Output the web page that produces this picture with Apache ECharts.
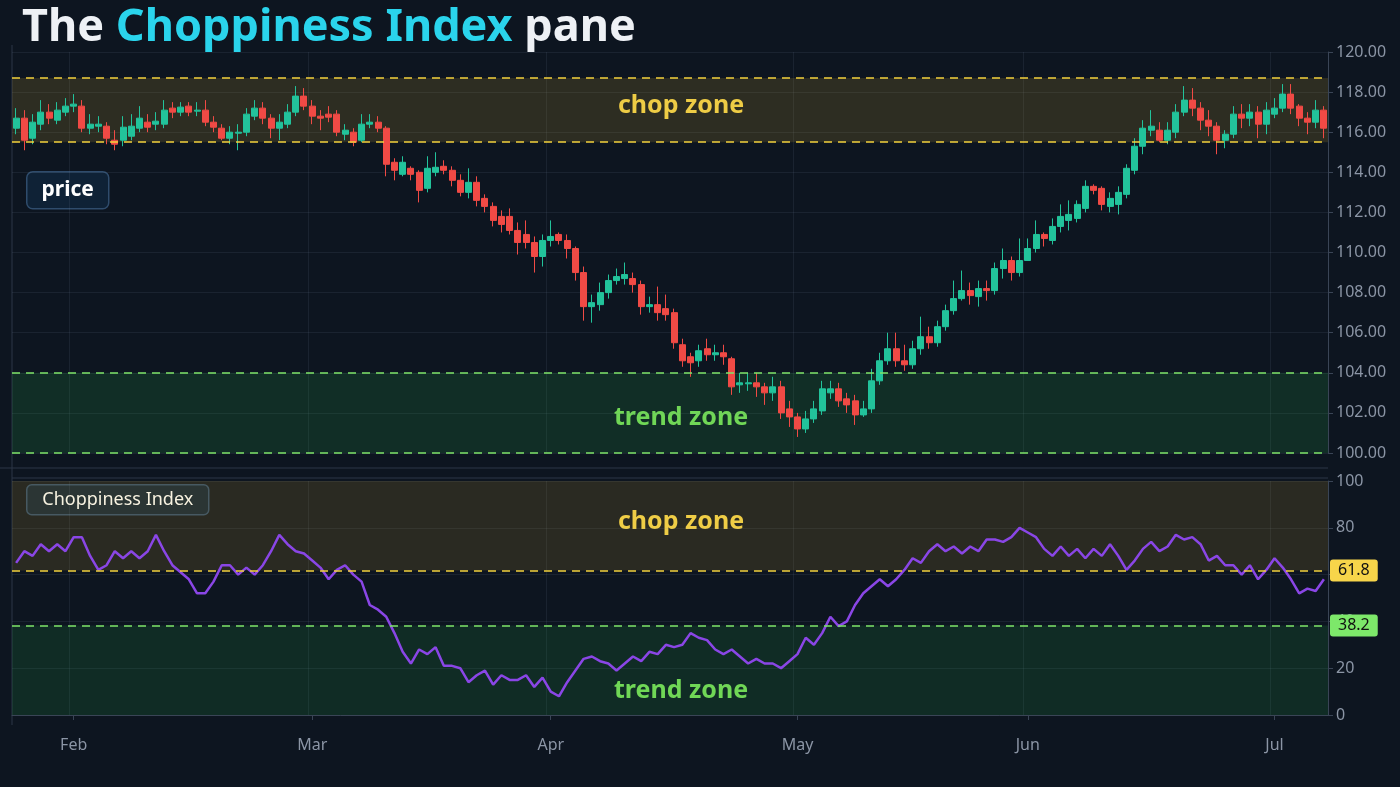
<!DOCTYPE html>
<html><head><meta charset="utf-8">
<script src="https://cdn.jsdelivr.net/npm/echarts@6/dist/echarts.min.js"></script>
<style>html,body{margin:0;padding:0;background:#0d1520;}#c{width:1400px;height:787px;}</style>
</head><body><div id="c"></div>
<script>
// [open, close, low, high]
const candles = [
[116.2,116.7,115.9,117.2],[116.7,115.6,115.1,117.1],[115.7,116.5,115.4,116.9],[116.4,117.0,116.1,117.6],[117.0,116.7,116.4,117.4],
[116.6,117.1,116.4,117.5],[117.0,117.3,116.8,117.7],[117.3,117.4,117.0,117.9],[117.3,116.2,116.0,117.6],[116.2,116.4,115.9,116.9],
[116.3,116.4,116.0,116.8],[116.3,115.7,115.4,116.5],[115.6,115.4,115.1,116.1],[115.6,116.25,115.3,116.8],[115.8,116.3,115.6,116.9],
[116.2,116.7,116.0,117.3],[116.5,116.25,116.0,116.9],[116.4,116.55,116.1,117.0],[116.4,117.1,116.2,117.6],[117.2,117.0,116.7,117.5],
[117.0,117.25,116.8,117.5],[117.3,117.0,116.8,117.5],[117.05,117.1,116.8,117.5],[117.1,116.5,116.3,117.6],[116.5,116.25,116.0,116.8],
[116.2,115.7,115.6,116.4],[115.7,116.0,115.4,116.3],[115.95,116.0,115.1,116.4],[116.0,116.9,115.8,117.2],[116.8,117.2,116.6,117.6],
[117.2,116.7,116.4,117.5],[116.7,116.2,115.7,116.9],[116.2,116.5,115.6,116.9],[116.4,117.0,116.2,117.4],[117.0,117.8,116.8,118.3],
[117.8,117.3,117.1,118.2],[117.3,116.8,116.4,117.6],[116.8,116.7,116.1,117.1],[116.9,116.75,116.5,117.3],[116.9,116.0,115.8,117.1],
[115.9,116.1,115.6,116.4],[116.0,115.5,115.3,116.2],[115.6,116.4,115.5,116.9],[116.4,116.5,116.2,116.9],[116.5,116.2,116.0,116.8],
[116.2,114.4,113.8,116.3],[114.5,114.1,113.6,114.7],[113.9,114.5,113.8,114.8],[114.2,113.9,113.6,114.3],[114.0,113.1,112.5,114.1],
[113.2,114.2,113.0,114.8],[114.0,114.25,113.8,115.0],[114.3,114.1,113.9,114.6],[114.1,113.6,113.3,114.3],[113.6,113.0,112.8,113.9],
[113.0,113.5,112.7,114.2],[113.5,112.6,112.3,113.8],[112.7,112.3,112.0,112.9],[112.3,111.6,111.3,112.5],[111.8,111.4,111.0,112.1],
[111.8,111.1,110.9,112.2],[111.1,110.5,109.9,111.5],[110.9,110.5,110.2,111.6],[110.5,109.8,109.0,110.8],[109.8,110.6,109.3,110.9],
[110.6,110.8,110.3,111.6],[110.9,110.6,110.4,111.0],[110.6,110.2,109.7,110.9],[110.2,109.0,108.6,110.3],[109.0,107.3,106.6,109.3],
[107.3,107.5,106.5,107.9],[107.4,108.0,107.1,108.5],[108.0,108.6,107.7,108.9],[108.6,108.8,108.4,109.2],[108.7,108.9,108.4,109.5],
[108.7,108.4,108.0,109.0],[108.4,107.3,106.9,108.6],[107.3,107.4,107.0,107.8],[107.4,107.0,106.6,108.3],[107.2,106.9,106.6,107.9],
[107.0,105.5,105.2,107.2],[105.4,104.6,104.3,105.7],[104.8,104.5,103.8,105.0],[104.6,105.1,104.3,105.4],[105.2,104.9,104.6,105.7],
[104.9,105.0,104.6,105.4],[105.0,104.8,104.4,105.4],[104.7,103.3,102.9,104.8],[103.4,103.5,103.0,104.0],[103.45,103.5,103.1,104.0],
[103.5,103.3,102.8,104.0],[103.3,103.0,102.4,103.5],[103.0,103.3,102.6,103.8],[103.3,102.0,101.7,103.6],[102.2,101.8,101.3,102.6],
[101.8,101.2,100.8,102.0],[101.2,101.7,101.0,102.1],[101.7,102.2,101.5,102.6],[102.1,103.2,101.9,103.6],[103.0,103.2,102.7,103.6],
[103.2,102.6,102.3,103.5],[102.7,102.4,102.0,103.0],[102.6,101.9,101.4,102.9],[101.9,102.2,101.8,102.6],[102.2,103.6,102.0,104.2],
[103.6,104.6,103.4,105.0],[104.6,105.2,104.4,106.0],[105.2,104.6,104.3,106.0],[104.6,104.4,104.1,105.4],[104.4,105.2,104.2,105.6],
[105.2,105.8,104.9,106.8],[105.8,105.5,105.2,106.3],[105.5,106.3,105.3,106.6],[106.3,107.1,106.1,107.4],[107.1,107.7,106.9,108.6],
[107.7,108.1,107.6,109.1],[108.1,107.85,107.4,108.5],[107.8,108.2,107.3,108.6],[108.2,108.1,107.6,108.6],[108.1,109.2,107.9,109.5],
[109.2,109.6,108.7,110.2],[109.6,109.0,108.6,109.8],[109.0,109.6,108.8,110.7],[109.6,110.2,109.6,110.7],[110.2,110.9,110.0,111.6],
[110.9,110.7,110.3,111.0],[110.6,111.3,110.4,111.7],[111.3,111.8,111.0,112.4],[111.6,111.9,111.1,112.6],[111.7,112.4,111.5,112.6],
[112.2,113.3,112.0,113.6],[113.3,113.1,112.9,113.4],[113.2,112.4,112.1,113.3],[112.3,112.7,112.0,113.0],[112.4,113.0,111.9,113.3],
[112.9,114.2,112.7,114.4],[114.1,115.3,113.9,115.7],[115.3,116.2,114.9,116.6],[116.1,116.3,115.8,117.1],[116.1,115.6,115.5,116.5],
[115.6,116.1,115.4,116.5],[116.0,117.0,115.7,117.4],[117.0,117.6,116.8,118.3],[117.6,117.2,116.8,118.2],[117.2,116.6,116.1,117.5],
[116.6,116.3,115.8,117.1],[116.3,115.6,114.9,116.5],[115.6,115.9,115.2,116.1],[115.9,116.9,115.7,117.3],[116.9,116.7,116.2,117.4],
[116.7,117.0,116.3,117.4],[117.0,116.4,115.7,117.3],[116.4,117.1,115.9,117.5],[116.9,117.2,116.7,117.7],[117.2,117.9,117.0,118.4],
[117.9,117.2,116.9,118.4],[117.3,116.7,116.3,117.4],[116.7,116.5,115.9,117.0],[116.5,117.1,116.2,117.6],[117.1,116.2,115.7,117.3]
];
const chop = [65,70,68,73,70,73,70,76,76,68,62,64,70,67,70,67,70,77,70,64,61,58,52,52,57,64,64,60,63,60,
64,70,77,73,70,69,66,63,58,62,64,60,57,47,45,42,35,27,22,28,26,29,21,21,20,14,17,19,13,17,
15,15,17,12,16,10,8,14,19,24,25,23,22,19,22,25,23,27,26,30,29,30,35,33,32,28,26,28,25,22,
24,22,22,20,23,26,33,30,35,42,38,40,47,52,55,58,55,58,62,67,65,70,73,70,72,69,72,70,75,75,
74,76,80,78,76,71,68,72,68,71,67,71,68,73,68,62,66,71,74,70,72,77,75,76,73,66,68,64,64,60,
64,58,62,67,63,58,52,54,53,58];
const categories = candles.map((_, i) => 'd' + i);
const monthTicks = [[7,'Feb'],[36,'Mar'],[65,'Apr'],[95,'May'],[123,'Jun'],[153,'Jul']];
const priceChopZone = [115.5,118.7], priceTrendZone = [100,104];
const ciChop = 61.8, ciTrend = 38.2;

const tickMap = new Map(monthTicks);
const isTick = (i) => tickMap.has(i);
const axisTxt = '#8b95a5', gridLine = 'rgba(120,140,165,0.12)';
const up = '#22c39b', down = '#f04a45';
const yellow = '#f2d13c', green = '#7fe36a';

const chart = echarts.init(document.getElementById('c'));
chart.setOption({
  backgroundColor: '#0d1520',
  animation: false,
  grid: [
    {left: 12, right: 72, top: 52, bottom: 334},
    {left: 12, right: 72, top: 481, bottom: 72}
  ],
  xAxis: [
    {type:'category', data: categories, gridIndex:0, boundaryGap:true,
     axisLine:{show:false}, axisTick:{show:false}, axisLabel:{show:false},
     splitLine:{show:true, interval:(i)=>isTick(i), lineStyle:{color:gridLine}}},
    {type:'category', data: categories, gridIndex:1, boundaryGap:true,
     axisLine:{show:true, lineStyle:{color:'#3a4556'}},
     axisTick:{show:true, interval:(i)=>isTick(i), alignWithLabel:true, lineStyle:{color:'#3a4556'}},
     axisLabel:{interval:(i)=>isTick(i), formatter:(v,i)=>tickMap.get(i)||'', color:axisTxt, fontSize:16, margin:22, fontFamily:'Noto Sans'},
     splitLine:{show:true, interval:(i)=>isTick(i), lineStyle:{color:gridLine}}}
  ],
  yAxis: [
    {type:'value', gridIndex:0, position:'right', min:100, max:120, interval:2,
     axisLine:{show:true, lineStyle:{color:'#3a4556'}}, axisTick:{show:true, lineStyle:{color:'#3a4556'}},
     axisLabel:{color:axisTxt, fontSize:16, formatter:(v)=>v.toFixed(2), fontFamily:'Noto Sans'},
     splitLine:{lineStyle:{color:gridLine}}},
    {type:'value', gridIndex:1, position:'right', min:0, max:100, interval:20,
     axisLine:{show:true, lineStyle:{color:'#3a4556'}}, axisTick:{show:true, lineStyle:{color:'#3a4556'}},
     axisLabel:{color:axisTxt, fontSize:16, fontFamily:'Noto Sans'},
     splitLine:{lineStyle:{color:gridLine}}}
  ],
  series: [
    {type:'candlestick', xAxisIndex:0, yAxisIndex:0, data: candles,
     barWidth: 6.5,
     itemStyle:{color:up, color0:down, borderColor:up, borderColor0:down, borderWidth:1},
     markArea:{silent:true, data:[
       [{yAxis:priceChopZone[0], itemStyle:{color:'rgba(205,165,45,0.17)'}},{yAxis:priceChopZone[1]}],
       [{yAxis:priceTrendZone[0], itemStyle:{color:'rgba(40,170,70,0.17)'}},{yAxis:priceTrendZone[1]}]
     ]},
     markLine:{silent:true, symbol:'none', label:{show:false}, data:[
       {yAxis:priceChopZone[0], lineStyle:{color:yellow, type:[8,6], width:1.5}},
       {yAxis:priceChopZone[1], lineStyle:{color:yellow, type:[8,6], width:1.5}},
       {yAxis:priceTrendZone[0], lineStyle:{color:green, type:[8,6], width:1.5}},
       {yAxis:priceTrendZone[1], lineStyle:{color:green, type:[8,6], width:1.5}}
     ]}},
    {type:'line', xAxisIndex:1, yAxisIndex:1, data: chop, symbol:'none',
     lineStyle:{color:'#8a46e6', width:2.5},
     markArea:{silent:true, data:[
       [{yAxis:ciChop, itemStyle:{color:'rgba(205,165,45,0.15)'}},{yAxis:100}],
       [{yAxis:0, itemStyle:{color:'rgba(40,170,70,0.16)'}},{yAxis:ciTrend}]
     ]},
     markLine:{silent:true, symbol:'none', data:[
       {yAxis:ciChop, lineStyle:{color:yellow, type:[8,6], width:1.5},
        label:{position:'end', formatter:'61.8', color:'#111', backgroundColor:'#f7d54a', fontSize:16, fontFamily:'Noto Sans', padding:[3,8], borderRadius:3, distance:2}},
       {yAxis:ciTrend, lineStyle:{color:green, type:[8,6], width:1.5},
        label:{position:'end', formatter:'38.2', color:'#111', backgroundColor:'#7de86a', fontSize:16, fontFamily:'Noto Sans', padding:[3,8], borderRadius:3, distance:2}}
     ]}}
  ],
  graphic: [
    {type:'line', shape:{x1:0,y1:468,x2:1328,y2:468}, style:{stroke:'#2c3747', lineWidth:1}},
    {type:'line', shape:{x1:12,y1:478,x2:1328,y2:478}, style:{stroke:'#2c3747', lineWidth:1}},
    {type:'line', shape:{x1:12,y1:45,x2:12,y2:725}, style:{stroke:'#2c3747', lineWidth:1}},
    {type:'text', left:22, top:6, style:{
      text:'{w|The }{c|Choppiness Index}{w| pane}',
      rich:{w:{fill:'#eef1f5', fontSize:45, fontWeight:'bold', fontFamily:'Noto Sans'},
            c:{fill:'#2ad4ec', fontSize:45, fontWeight:'bold', fontFamily:'Noto Sans'}}}},
    {type:'group', left:26, top:171, children:[
      {type:'rect', shape:{x:0,y:0,width:82,height:37,r:6}, style:{fill:'#0f2236', stroke:'#2f4c6c', lineWidth:1.5}},
      {type:'text', x:41, y:18.5, style:{text:'price', fill:'#fff', fontSize:21, fontWeight:'bold', fontFamily:'Noto Sans', align:'center', verticalAlign:'middle'}}
    ]},
    {type:'group', left:26, top:484, children:[
      {type:'rect', shape:{x:0,y:0,width:182,height:30,r:5}, style:{fill:'#0f2236', stroke:'#2f4c6c', lineWidth:1.5}},
      {type:'text', x:91, y:15, style:{text:'Choppiness Index', fill:'#fff', fontSize:18, fontFamily:'Noto Sans', align:'center', verticalAlign:'middle'}}
    ]},
    {type:'text', x:681, y:106, style:{text:'chop zone', fill:'#f5d44a', fontSize:25, fontWeight:'bold', fontFamily:'Noto Sans', align:'center', verticalAlign:'middle'}},
    {type:'text', x:681, y:418, style:{text:'trend zone', fill:'#7fe05a', fontSize:25, fontWeight:'bold', fontFamily:'Noto Sans', align:'center', verticalAlign:'middle'}},
    {type:'text', x:681, y:522, style:{text:'chop zone', fill:'#f5d44a', fontSize:25, fontWeight:'bold', fontFamily:'Noto Sans', align:'center', verticalAlign:'middle'}},
    {type:'text', x:681, y:691, style:{text:'trend zone', fill:'#7fe05a', fontSize:25, fontWeight:'bold', fontFamily:'Noto Sans', align:'center', verticalAlign:'middle'}}
  ]
});
</script></body></html>
